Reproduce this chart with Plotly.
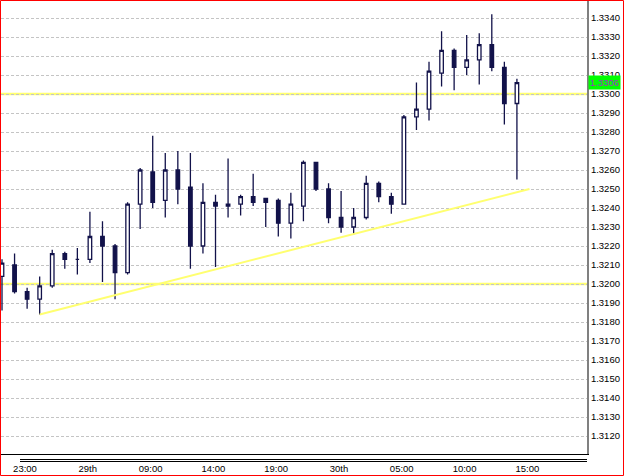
import plotly.graph_objects as go

# ---- data ----
candle_idx = list(range(42))
opens = [1.3204, 1.3210, 1.3196, 1.3192, 1.3199, 1.3216, 1.3213, 1.3213, 1.3225, 1.3220,
         1.3206, 1.3242, 1.3259, 1.3244, 1.3260, 1.3251, 1.3220, 1.3243, 1.3241, 1.3242,
         1.3246, 1.3245, 1.3244, 1.3232, 1.3241, 1.3264, 1.3250, 1.3235, 1.3230, 1.3235,
         1.3253, 1.3246, 1.3242, 1.3288, 1.3292, 1.3311, 1.3323, 1.3314, 1.3318, 1.3326,
         1.3314, 1.3295]
highs = [1.3213, 1.3216, 1.3198, 1.3204, 1.3218, 1.3217, 1.3219, 1.3238, 1.3233, 1.3221,
         1.3243, 1.3261, 1.3278, 1.3269, 1.3270, 1.3269, 1.3253, 1.3247, 1.3266, 1.3247,
         1.3258, 1.3245, 1.3245, 1.3248, 1.3265, 1.3264, 1.3253, 1.3249, 1.3240, 1.3257,
         1.3254, 1.3248, 1.3289, 1.3306, 1.3317, 1.3333, 1.3324, 1.3331, 1.3332, 1.3342,
         1.3317, 1.3308]
lows = [1.3186, 1.3195, 1.3187, 1.3184, 1.3198, 1.3208, 1.3205, 1.3211, 1.3201, 1.3192,
        1.3205, 1.3229, 1.3240, 1.3235, 1.3242, 1.3208, 1.3216, 1.3209, 1.3235, 1.3236,
        1.3241, 1.3230, 1.3225, 1.3224, 1.3233, 1.3249, 1.3232, 1.3227, 1.3226, 1.3234,
        1.3243, 1.3237, 1.3242, 1.3281, 1.3286, 1.3304, 1.3302, 1.3310, 1.3305, 1.3312,
        1.3284, 1.3255]
closes = [1.3211, 1.3196, 1.3192, 1.3199, 1.3216, 1.3213, 1.3213, 1.3225, 1.3220, 1.3206,
          1.3242, 1.3260, 1.3243, 1.3260, 1.3250, 1.3220, 1.3243, 1.3241, 1.3242, 1.3246,
          1.3243, 1.3243, 1.3232, 1.3242, 1.3264, 1.3250, 1.3235, 1.3230, 1.3235, 1.3253,
          1.3246, 1.3242, 1.3288, 1.3292, 1.3312, 1.3323, 1.3314, 1.3318, 1.3326, 1.3314,
          1.3295, 1.3306]

x_label_idx = [1, 6, 11, 16, 21, 26, 31, 36, 41]
x_labels = ["23:00", "29th", "09:00", "14:00", "19:00", "30th", "05:00", "10:00", "15:00"]

y_ticks = [1.3120, 1.3130, 1.3140, 1.3150, 1.3160, 1.3170, 1.3180, 1.3190, 1.3200, 1.3210,
           1.3220, 1.3230, 1.3240, 1.3250, 1.3260, 1.3270, 1.3280, 1.3290, 1.3300, 1.3310,
           1.3320, 1.3330, 1.3340]
y_labels = ["%.4f" % v for v in y_ticks]

hlines = [1.3300, 1.3200]
trend_x = [3, 42]
trend_y = [1.3184, 1.3250]

# ---- figure ----
NAVY = "#12124a"
YELLOW = "#ffff70"
FONT = "Liberation Sans"

fig = go.Figure()

fig.add_trace(go.Scatter(
    x=trend_x, y=trend_y, mode="lines",
    line=dict(color=YELLOW, width=2), hoverinfo="skip", showlegend=False))

fig.add_trace(go.Candlestick(
    x=candle_idx, open=opens, high=highs, low=lows, close=closes,
    increasing=dict(line=dict(color=NAVY, width=1.3), fillcolor="#ffffff"),
    decreasing=dict(line=dict(color=NAVY, width=1.3), fillcolor=NAVY),
    whiskerwidth=0, showlegend=False, hoverinfo="skip"))

shapes = []
for lvl in hlines:
    shapes.append(dict(type="line", xref="paper", yref="y", x0=0, x1=1, y0=lvl, y1=lvl,
                       line=dict(color=YELLOW, width=2.5), layer="below"))

# double rule under the time axis
for py in (459.5, 461.5):
    yp = (454 - py) / 453
    shapes.append(dict(type="line", xref="paper", yref="paper", x0=(20 - 1) / 586, x1=1,
                       y0=yp, y1=yp, line=dict(color="#000000", width=1), layer="above"))

# red window border
shapes.append(dict(type="rect", xref="paper", yref="paper",
                   x0=(0.5 - 1) / 586, x1=(623.5 - 1) / 586,
                   y0=(454 - 475.5) / 453, y1=(454 - 0.5) / 453,
                   line=dict(color="#ff0000", width=1), fillcolor="rgba(0,0,0,0)", layer="above"))

last = closes[-1]
annotations = [dict(xref="paper", yref="y", x=1.0, y=last, xanchor="left", yanchor="middle",
                    xshift=1, text="%.4f" % last, showarrow=False,
                    font=dict(family=FONT, size=9.5, color="#a030c0"),
                    bgcolor="#00ff00", borderpad=1)]

fig.update_layout(
    width=625, height=476,
    margin=dict(l=1, r=38, t=1, b=22, pad=0),
    paper_bgcolor="#ffffff", plot_bgcolor="#ffffff",
    boxgap=0.6,
    shapes=shapes, annotations=annotations,
    font=dict(family=FONT, size=9.5, color="#000000"),
    xaxis=dict(range=[-0.08, 46.58], rangeslider=dict(visible=False), showgrid=False,
               zeroline=False, showline=True, linecolor="#000000", linewidth=1,
               tickmode="array", tickvals=[i + 0.83 for i in x_label_idx], ticktext=x_labels,
               ticks="", ticklabelstandoff=6, fixedrange=True),
    yaxis=dict(side="right", range=[1.311053, 1.334895], showgrid=True,
               gridcolor="#c4c4c4", griddash="3px,2px", gridwidth=1,
               zeroline=False, showline=True, linecolor="#808080", linewidth=2,
               tickmode="array", tickvals=y_ticks, ticktext=y_labels, ticks=""),
)

fig.write_html("out.html")
